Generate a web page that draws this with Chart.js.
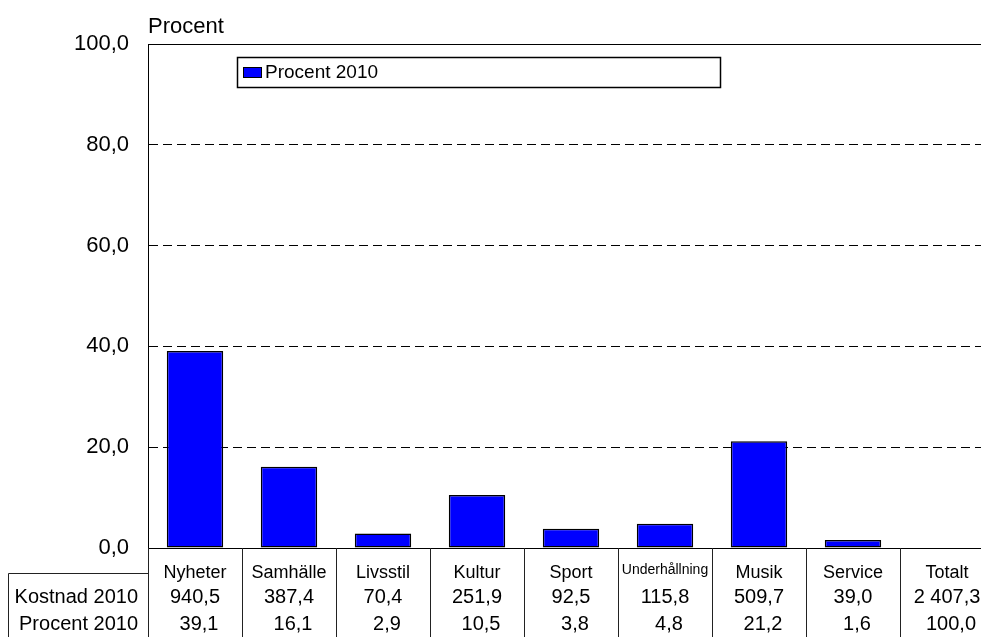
<!DOCTYPE html>
<html>
<head>
<meta charset="utf-8">
<script src="https://cdn.jsdelivr.net/npm/chart.js@4"></script>
<style>
  html, body { margin: 0; padding: 0; background: #fff; overflow: hidden; }
  #wrap { position: absolute; left: 0; top: 0; width: 995px; height: 637px; }
</style>
</head>
<body>
<div id="wrap"><canvas id="c" width="995" height="637"></canvas></div>
<script>
const categories = ['Nyheter', 'Samhälle', 'Livsstil', 'Kultur', 'Sport', 'Underhållning', 'Musik', 'Service', 'Totalt'];
const kostnad2010 = [940.5, 387.4, 70.4, 251.9, 92.5, 115.8, 509.7, 39.0, 2407.3];
const procent2010 = [39.1, 16.1, 2.9, 10.5, 3.8, 4.8, 21.2, 1.6, 100.0];
const rowLabels = ['Kostnad 2010', 'Procent 2010'];
const yTicks = [0, 20, 40, 60, 80, 100];
const yTitle = 'Procent';
const seriesLabel = 'Procent 2010';

const FONT = '"Liberation Sans", Arial, sans-serif';
const fmt = v => {
  const s = v.toFixed(1).replace('.', ',');
  const [i, d] = s.split(',');
  return i.replace(/\B(?=(\d{3})+(?!\d))/g, ' ') + ',' + d;
};
// Totalt column has no bar in the chart
const barValues = procent2010.map((v, i) => categories[i] === 'Totalt' ? null : v);

const decor = {
  id: 'decor',
  afterDraw(chart) {
    const ctx = chart.ctx;
    const ca = chart.chartArea;
    const x = chart.scales.x;
    const n = categories.length;
    const colW = (ca.right - ca.left) / n;
    ctx.save();

    // top border of plot area (solid)
    ctx.strokeStyle = '#000';
    ctx.lineWidth = 1;
    ctx.beginPath();
    ctx.moveTo(ca.left, Math.round(ca.top) + 0.5);
    ctx.lineTo(ca.right, Math.round(ca.top) + 0.5);
    ctx.stroke();

    // y title
    ctx.fillStyle = '#000';
    ctx.font = '22px ' + FONT;
    ctx.textAlign = 'left';
    ctx.textBaseline = 'alphabetic';
    ctx.fillText(yTitle, ca.left, 33);

    // legend
    ctx.lineWidth = 1.5;
    ctx.strokeStyle = '#000';
    ctx.strokeRect(237.5, 57.5, 483, 30);
    ctx.fillStyle = '#0000FF';
    ctx.fillRect(243, 67, 19, 11);
    ctx.lineWidth = 1;
    ctx.strokeRect(243.5, 67.5, 18, 10);
    ctx.fillStyle = '#000';
    ctx.font = '19px ' + FONT;
    ctx.textBaseline = 'middle';
    ctx.fillText(chart.data.datasets[0].label, 265, 73);

    // data table
    const top = ca.bottom;
    const bottom = chart.height;
    ctx.strokeStyle = '#222';
    ctx.lineWidth = 1;
    for (let i = 0; i <= n; i++) {
      const xx = Math.round(ca.left + i * colW) + 0.5;
      ctx.beginPath();
      ctx.moveTo(xx, top);
      ctx.lineTo(xx, bottom);
      ctx.stroke();
    }
    // header block for row labels
    ctx.beginPath();
    ctx.moveTo(8.5, 573.5);
    ctx.lineTo(ca.left, 573.5);
    ctx.moveTo(8.5, 573.5);
    ctx.lineTo(8.5, bottom);
    ctx.stroke();

    ctx.fillStyle = '#000';
    ctx.textAlign = 'center';
    ctx.textBaseline = 'middle';
    for (let i = 0; i < n; i++) {
      const cx = x.getPixelForValue(i);
      let size = 18;
      ctx.font = size + 'px ' + FONT;
      const w = ctx.measureText(categories[i]).width;
      let cy = 573;
      if (w > colW - 6) {
        size = Math.floor(size * (colW - 5) / w);
        ctx.font = size + 'px ' + FONT;
        cy = 570;
      }
      ctx.fillText(categories[i], cx, cy);
      ctx.font = '20px ' + FONT;
      ctx.fillText(fmt(kostnad2010[i]), cx, 597);
      ctx.fillText(fmt(procent2010[i]), cx + 4, 624);
    }
    ctx.textAlign = 'right';
    ctx.font = '20px ' + FONT;
    ctx.fillText(rowLabels[0], 138, 597);
    ctx.fillText(rowLabels[1], 138, 624);
    ctx.restore();
  }
};

new Chart(document.getElementById('c'), {
  type: 'bar',
  data: {
    labels: categories,
    datasets: [{
      label: seriesLabel,
      data: barValues,
      backgroundColor: '#0000FF',
      borderColor: '#000',
      borderWidth: 1.5,
      borderSkipped: false,
      barPercentage: 0.6,
      categoryPercentage: 1.0
    }]
  },
  options: {
    responsive: false,
    animation: false,
    devicePixelRatio: 1,
    layout: { padding: { top: 44, bottom: 81, left: 0, right: 1 } },
    plugins: { legend: { display: false }, tooltip: { enabled: false }, title: { display: false } },
    scales: {
      x: {
        type: 'category',
        grid: { display: false },
        ticks: { display: false },
        border: { display: true, color: '#000', width: 1 }
      },
      y: {
        min: 0,
        max: 100,
        afterFit(scale) { scale.width = 148; },
        afterBuildTicks(scale) { scale.ticks = yTicks.map(v => ({ value: v })); },
        ticks: {
          padding: 19,
          color: '#000',
          font: { family: FONT, size: 22 },
          callback: v => fmt(v)
        },
        grid: { color: '#000', lineWidth: 1, drawTicks: false },
        border: { display: true, color: '#000', width: 1, dash: [9, 5] }
      }
    }
  },
  plugins: [decor]
});
</script>
</body>
</html>
